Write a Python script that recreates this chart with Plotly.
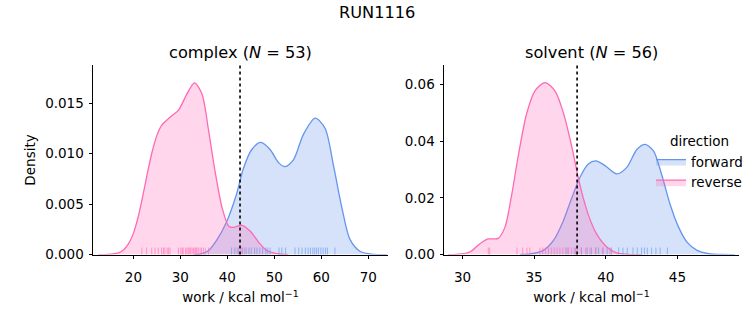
import plotly.graph_objects as go

# ---------------- data ----------------
# complex leg, KDE curves
cx_rev_x = [12.5, 14.5, 16.0, 17.0, 18.0, 19.0, 20.0, 21.0, 22.0, 23.0, 24.0, 25.0, 26.0, 27.8, 29.6, 31.4, 33.0, 34.6, 36.0, 37.4, 38.9, 40.3, 41.3, 43.1, 44.9, 46.7, 48.4, 50.5, 53.0]
cx_rev_d = [0.0, 0.00002, 0.0001, 0.0002, 0.0005, 0.0011, 0.0021, 0.0037, 0.0058, 0.0081, 0.0102, 0.0118, 0.0128, 0.0136, 0.0143, 0.0159, 0.0170, 0.0159, 0.0123, 0.0082, 0.0046, 0.0028, 0.0027, 0.0029, 0.0023, 0.0012, 0.0004, 0.0001, 0.0]
cx_fwd_x = [33.0, 34.2, 36.0, 37.7, 39.8, 41.9, 43.4, 45.2, 47.1, 49.1, 50.9, 52.3, 54.1, 56.2, 58.7, 60.8, 62.6, 64.4, 66.1, 68.3, 71.1, 74.0]
cx_fwd_d = [0.0, 0.00005, 0.0004, 0.0014, 0.0032, 0.0059, 0.0085, 0.0104, 0.0111, 0.0104, 0.0091, 0.0087, 0.0094, 0.0119, 0.0135, 0.0125, 0.0088, 0.0046, 0.0015, 0.0003, 0.00002, 0.0]

# solvent leg, KDE curves
sv_rev_x = [29.0, 29.6, 30.51, 31.21, 31.79, 32.49, 32.96, 33.43, 33.89, 34.48, 35.06, 35.76, 36.45, 37.03, 37.62, 38.2, 38.78, 39.37, 40.07, 40.77, 41.5, 42.5]
sv_rev_d = [0.0, 0.0001, 0.0009, 0.0038, 0.0055, 0.0057, 0.0096, 0.0210, 0.0348, 0.0498, 0.0578, 0.0607, 0.0578, 0.0503, 0.0383, 0.0245, 0.0141, 0.0072, 0.0027, 0.0006, 0.0001, 0.0]
sv_fwd_x = [34.0, 34.7, 35.64, 36.34, 37.03, 37.62, 38.2, 38.78, 39.32, 39.95, 40.77, 41.47, 42.17, 42.75, 43.33, 43.92, 44.5, 45.09, 45.67, 46.37, 47.3, 48.0, 49.0]
sv_fwd_d = [0.0, 0.0002, 0.0015, 0.0049, 0.0118, 0.0199, 0.0273, 0.0320, 0.0331, 0.0314, 0.0285, 0.0308, 0.0371, 0.0389, 0.0366, 0.0279, 0.0176, 0.0096, 0.0044, 0.0015, 0.0002, 0.00003, 0.0]

# rug samples
cx_rev_rug = [21.8, 22.8, 23.9, 24.6, 25.3, 26.0, 26.4, 26.7, 27.2, 27.5, 27.8, 29.6, 30.1, 30.4, 30.6,
              31.1, 31.4, 31.7, 32.0, 32.2, 32.5, 32.8, 33.1, 33.3, 33.5, 33.8, 34.2, 34.5, 34.9, 35.3,
              36.0, 42.1, 42.9, 43.6]
cx_fwd_rug = [40.9, 41.6, 42.4, 43.2, 44.0, 44.6, 45.1, 45.8, 46.3, 46.9, 47.5, 48.2, 48.6, 49.1, 51.0,
              51.6, 52.4, 54.4, 55.2, 55.9, 56.6, 57.2, 57.7, 58.2, 58.6, 59.0, 59.4, 59.9, 60.4, 60.9,
              61.3, 62.9]
sv_rev_rug = [31.8, 31.9, 33.8, 34.2, 34.5, 34.7, 35.4, 35.6, 35.8, 36.0, 36.2, 36.4, 36.6, 36.8, 37.0,
              37.2, 37.4, 37.6, 37.8, 38.0, 38.3, 38.6, 38.9, 39.3, 39.8, 40.3]
sv_fwd_rug = [37.3, 37.9, 38.3, 38.7, 39.0, 39.3, 39.5, 39.8, 40.1, 40.4, 40.9, 41.2, 41.5, 41.9, 42.2,
              42.5, 42.7, 42.9, 43.2, 43.5, 43.8, 44.3]

cx_dg = 42.7
sv_dg = 38.0
cx_n = 53
sv_n = 56

cx_xticks = [20, 30, 40, 50, 60, 70]
cx_yticks = [0.0, 0.005, 0.010, 0.015]
sv_xticks = [30, 35, 40, 45]
sv_yticks = [0.0, 0.02, 0.04, 0.06]

cx_xrange = [11.4, 74.2]
cx_yrange = [0.0, 0.01873]
sv_xrange = [28.71, 49.3]
sv_yrange = [0.0, 0.0668]

# ---------------- style ----------------
BLUE = "#6495ED"
PINK = "#FF69B4"
BLUE_F = "rgba(100,149,237,0.27)"
PINK_F = "rgba(255,105,180,0.27)"
BLUE_R = "rgba(100,149,237,0.6)"
PINK_R = "rgba(255,105,180,0.6)"
FONT = "DejaVu Sans"
W, H = 753, 325

fig = go.Figure()

def add_panel(xa, ya, fx, fd, rx, rd, frug, rrug, yr, legend):
    for (x, d, col, fcol, name) in [(fx, fd, BLUE, BLUE_F, "forward"), (rx, rd, PINK, PINK_F, "reverse")]:
        fig.add_trace(go.Scatter(x=x, y=d, mode="lines", line=dict(color=col, width=1.3, shape="spline", smoothing=0.8),
                                 fill="tozeroy", fillcolor=fcol, name=name, showlegend=legend,
                                 xaxis=xa, yaxis=ya, hoverinfo="skip"))
    rug_y = yr[1] * 0.015
    for (vals, col) in [(frug, BLUE_R), (rrug, PINK_R)]:
        fig.add_trace(go.Scatter(x=vals, y=[rug_y] * len(vals), mode="markers",
                                 marker=dict(symbol="line-ns-open", size=6, color=col, line=dict(color=col, width=1)),
                                 showlegend=False, xaxis=xa, yaxis=ya, hoverinfo="skip"))

add_panel("x", "y", cx_fwd_x, cx_fwd_d, cx_rev_x, cx_rev_d, cx_fwd_rug, cx_rev_rug, cx_yrange, False)
add_panel("x2", "y2", sv_fwd_x, sv_fwd_d, sv_rev_x, sv_rev_d, sv_fwd_rug, sv_rev_rug, sv_yrange, True)

for xr, xv in [("x", cx_dg), ("x2", sv_dg)]:
    fig.add_shape(type="line", xref=xr, yref=("y" if xr == "x" else "y2") + " domain",
                  x0=xv, x1=xv, y0=0, y1=1, line=dict(color="black", width=1.6, dash="dot"))

ydom = [1 - 261 / H, 1 - 67 / H]
axis_common = dict(showline=True, linecolor="black", linewidth=1, ticks="outside", ticklen=3.5,
                   tickwidth=0.9, tickcolor="black", showgrid=False, zeroline=False,
                   tickfont=dict(family=FONT, size=13.5, color="black"))

xtitle = dict(text="work / kcal mol<sup>−1</sup>", font=dict(family=FONT, size=13.5, color="black"), standoff=8)

fig.update_layout(
    width=W, height=H,
    margin=dict(l=0, r=0, t=0, b=0),
    paper_bgcolor="white", plot_bgcolor="rgba(0,0,0,0)",
    font=dict(family=FONT, color="black"),
    xaxis=dict(domain=[93 / W, 388 / W], range=cx_xrange, tickvals=cx_xticks, title=xtitle,
               ticklabelstandoff=7, **axis_common),
    yaxis=dict(domain=ydom, range=cx_yrange, tickvals=cx_yticks, tickformat=".3f", ticklabelstandoff=2,
               title=dict(text="Density", font=dict(family=FONT, size=13.5, color="black"), standoff=6), **axis_common),
    xaxis2=dict(domain=[444 / W, 739 / W], range=sv_xrange, tickvals=sv_xticks, anchor="y2", title=xtitle,
                ticklabelstandoff=7, **axis_common),
    yaxis2=dict(domain=ydom, range=sv_yrange, tickvals=sv_yticks, tickformat=".2f", anchor="x2",
                ticklabelstandoff=2, **axis_common),
    legend=dict(x=651 / W, y=1 - 132 / H, xanchor="left", yanchor="top", bgcolor="rgba(0,0,0,0)",
                font=dict(family=FONT, size=13.5, color="black"),
                title=dict(text="direction", side="top center", font=dict(family=FONT, size=13.5, color="black")),
                tracegroupgap=0, itemwidth=30),
    annotations=[
        dict(text="RUN1116", x=0.5, y=1 - 13 / H, xref="paper", yref="paper", showarrow=False,
             font=dict(family=FONT, size=16.2, color="black"), xanchor="center", yanchor="middle"),
        dict(text=f"complex (<i>N</i> = {cx_n})", x=(93 + 388) / 2 / W, y=1 - 54 / H, xref="paper", yref="paper",
             showarrow=False, font=dict(family=FONT, size=16.2, color="black"), xanchor="center", yanchor="middle"),
        dict(text=f"solvent (<i>N</i> = {sv_n})", x=(444 + 739) / 2 / W, y=1 - 54 / H, xref="paper", yref="paper",
             showarrow=False, font=dict(family=FONT, size=16.2, color="black"), xanchor="center", yanchor="middle"),
    ],
)

fig.write_html("out.html")
